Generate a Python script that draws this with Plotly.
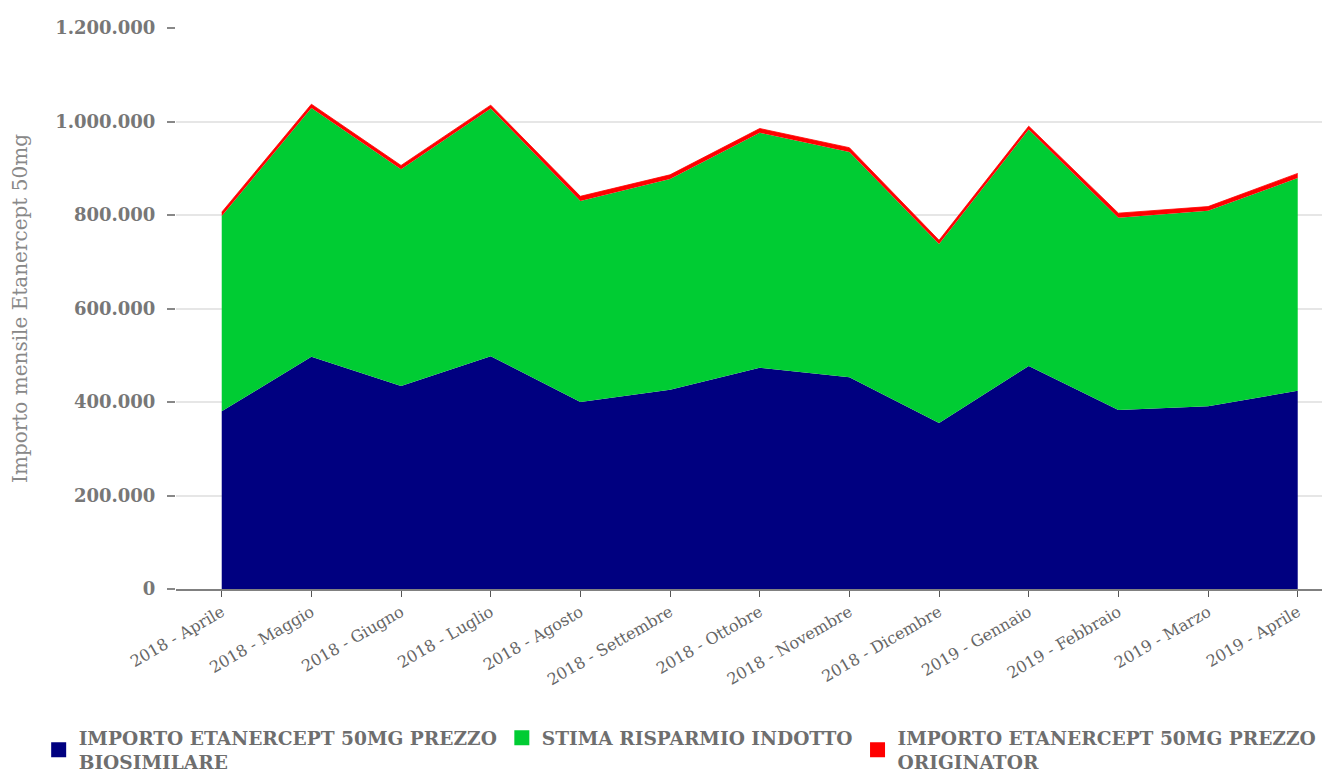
import plotly.graph_objects as go

months = ["2018 - Aprile", "2018 - Maggio", "2018 - Giugno", "2018 - Luglio",
          "2018 - Agosto", "2018 - Settembre", "2018 - Ottobre", "2018 - Novembre",
          "2018 - Dicembre", "2019 - Gennaio", "2019 - Febbraio", "2019 - Marzo",
          "2019 - Aprile"]
biosimilare = [380000, 497000, 434000, 498000, 400000, 426000, 473000, 453000,
               355000, 477000, 383000, 391000, 424000]
risparmio = [418000, 532000, 464000, 530000, 430000, 451000, 503000, 482000,
             383000, 506000, 411000, 418000, 455000]
originator = [8000, 8000, 8000, 7000, 10000, 9000, 9000, 9000,
              8000, 7000, 10000, 9000, 10000]

names = ["IMPORTO ETANERCEPT 50MG PREZZO<br>BIOSIMILARE",
         "STIMA RISPARMIO INDOTTO",
         "IMPORTO ETANERCEPT 50MG PREZZO<br>ORIGINATOR"]
colors = ["#000080", "#00CC33", "#FF0000"]
series = [biosimilare, risparmio, originator]

fig = go.Figure()
for s, c, n in zip(series, colors, names):
    fig.add_trace(go.Scatter(
        x=months, y=s, mode="lines", stackgroup="one",
        line=dict(width=0.8 if c == "#FF0000" else 0, color=c),
        fillcolor=c, name=n, showlegend=False, hoverinfo="x+y+name"))
# legend entries with square symbols
for c, n in zip(colors, names):
    fig.add_trace(go.Scatter(
        x=[None], y=[None], mode="markers",
        marker=dict(symbol="square", size=15, color=c),
        name=n, showlegend=True))

# the page body adds an 8px offset, so the figure is 8px smaller on each side
fig.update_layout(
    width=1322, height=765,
    margin=dict(l=168, r=0, t=20, b=184, autoexpand=False),
    paper_bgcolor="white", plot_bgcolor="white",
    separators=",.",
    font=dict(family="DejaVu Serif", color="#777777"),
    xaxis=dict(
        type="category", range=[-0.51, 12.36], automargin=False,
        showline=True, linecolor="#808080", linewidth=1.5,
        ticks="outside", ticklen=6, tickcolor="#555555", tickwidth=1,
        tickangle=-30, showgrid=False,
        tickfont=dict(family="DejaVu Serif", size=16, color="#666666"),
    ),
    yaxis=dict(
        range=[0, 1200000], tickvals=[0, 200000, 400000, 600000, 800000, 1000000, 1200000],
        tickformat=",d", showline=False, zeroline=False, automargin=False,
        showgrid=True, gridcolor="#e6e6e6", gridwidth=1.5,
        ticks="outside", ticklen=8, tickcolor="#888888", tickwidth=1.5,
        ticklabelstandoff=8,
        tickfont=dict(family="DejaVu Serif", size=18, color="#777777", weight="bold"),
        title=dict(text="Importo mensile Etanercept 50mg", standoff=22,
                   font=dict(family="DejaVu Serif", size=20, color="#888888")),
    ),
    legend=dict(
        orientation="h", x=-0.119, xanchor="left", y=-0.232, yanchor="top",
        font=dict(family="DejaVu Serif", size=18.6, color="#6e6e6e", weight="bold"),
        itemsizing="trace", tracegroupgap=0, traceorder="normal",
    ),
)

fig.write_html("out.html")
